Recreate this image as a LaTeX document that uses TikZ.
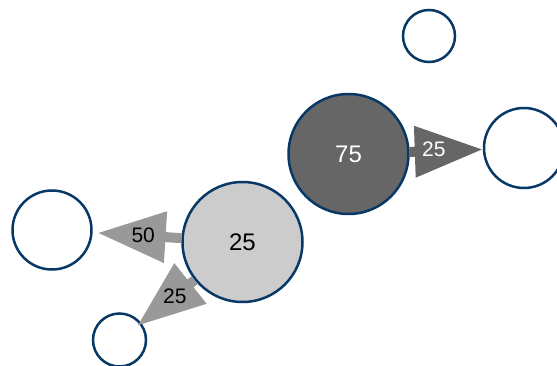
\documentclass[tikz,border=0pt]{standalone}
\usepackage{fontspec}
\setmainfont{Liberation Sans}
\usepackage{tikz}
\usetikzlibrary{arrows.meta}
\definecolor{rimblue}{RGB}{8,56,102}
\definecolor{darkfill}{RGB}{102,102,102}
\definecolor{lightfill}{RGB}{204,204,204}
\definecolor{flowgray}{RGB}{153,153,153}
\tikzset{%
	bub/.style = {circle, draw = rimblue, line width = 2.5pt, inner sep = 0pt, minimum size = #1, fill = white,
		font = \fontsize{24}{24}\selectfont},
	flow/.style = {line width = 10pt, -{Triangle[length = 68pt, width = 49pt]}},
	lbl/.style = {font = \fontsize{21}{21}\selectfont, inner sep = 0pt}
}
\begin{document}
\begin{tikzpicture}[x=1pt, y=-1pt]
			\useasboundingbox (0,0) rectangle (557,366);
			\node [bub = {120pt}, fill = darkfill, text = white] (dark) at (348.5,154) {75};
			\node [bub = {120pt}, fill = lightfill] (light) at (242.5,242) {25};
			\node [bub = {80pt}] (right) at (524,148) {};
			\node [bub = {52pt}] (top) at (429,36) {};
			\node [bub = {79pt}] (left) at (52,230) {};
			\node [bub = {53pt}] (bottom) at (119.5,340) {};
			\draw [flow, darkfill] (dark) -- node [lbl, pos = 0.33, yshift = 2pt, text = white] {25} (right);
			\draw [flow, flowgray, shorten > = 5pt] (light) -- node [lbl, pos = 0.43, text = black] {50} (left);
			\draw [flow, flowgray, shorten > = -5pt] (light) -- node [lbl, pos = 0.37, text = black] {25} (bottom);
\end{tikzpicture}
\end{document}
